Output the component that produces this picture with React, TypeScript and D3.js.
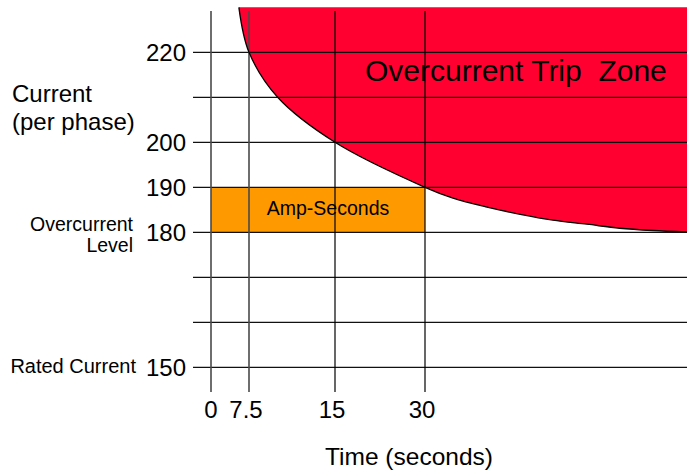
import React from "react";
import * as d3 from "d3";

const W = 687;
const H = 475;

// x ticks (seconds) and y grid (amps)
const xTicks = [0, 7.5, 15, 30];
const xTickLabels = ["0", "7.5", "15", "30"];
const yGrid = [220, 210, 200, 190, 180, 170, 160, 150];
const yLabeled = [220, 200, 190, 180, 150];

// trip curve
const curveTime = [5.5, 7.5, 10, 15, 30, 36.4, 44.2, 51.8, 59.3, 67.1, 74.6, 82.1, 90];
const curveAmps = [230, 220, 210, 200, 190, 187.6, 185.6, 184, 182.7, 181.8, 180.9, 180.4, 180.1];

// amp-seconds box
const boxTime = [0, 30];
const boxAmps = [180, 190];

const FONT = "'Liberation Sans', Arial, sans-serif";

export default function App() {
  const x = d3.scaleLinear().domain([0, 7.5, 15, 30, 90]).range([211, 249, 335, 425, 687]);
  const y = d3.scaleLinear().domain([150, 220]).range([367.3, 52.3]);
  const yTop = 230;

  const pts = curveTime.map((t, i) => ({ t, I: curveAmps[i] }));
  const area = d3
    .area<{ t: number; I: number }>()
    .x((d) => x(d.t))
    .y0(y(yTop))
    .y1((d) => y(d.I))
    .curve(d3.curveCatmullRom.alpha(0.5));
  const line = d3
    .line<{ t: number; I: number }>()
    .x((d) => x(d.t))
    .y((d) => y(d.I))
    .curve(d3.curveCatmullRom.alpha(0.5));

  return (
    <svg
      width={W}
      height={H}
      style={{ position: "absolute", left: 0, top: 0, background: "#fff" }}
      fontFamily={FONT}
    >
      <path d={area(pts) || ""} fill="#ff0030" />
      <rect
        x={x(boxTime[0])}
        y={y(boxAmps[1])}
        width={x(boxTime[1]) - x(boxTime[0])}
        height={y(boxAmps[0]) - y(boxAmps[1])}
        fill="#ff9900"
      />
      {yGrid.map((v) => (
        <line key={v} x1={193} x2={W} y1={y(v)} y2={y(v)} stroke="#111" strokeWidth={1.2} />
      ))}
      {xTicks.map((t, i) => (
        <line
          key={t}
          x1={x(t)}
          x2={x(t)}
          y1={11}
          y2={392}
          stroke={i < 2 ? "#4a4a4a" : "#000"}
          strokeWidth={i < 2 ? 1.6 : 1.2}
        />
      ))}
      <path d={line(pts) || ""} fill="none" stroke="#000" strokeWidth={1.3} />

      {yLabeled.map((v) => (
        <text key={v} x={186} y={y(v) + 9} textAnchor="end" fontSize={24} fill="#000">
          {v}
        </text>
      ))}
      {xTicks.map((t, i) => (
        <text key={t} x={x(t) - (i === 0 ? 0 : 3)} y={418} textAnchor="middle" fontSize={24} fill="#000">
          {xTickLabels[i]}
        </text>
      ))}

      <text x={12} y={102} fontSize={24}>Current</text>
      <text x={12} y={130} fontSize={24}>(per phase)</text>
      <text x={133} y={231} textAnchor="end" fontSize={19.5}>Overcurrent</text>
      <text x={133} y={252} textAnchor="end" fontSize={19.5}>Level</text>
      <text x={136} y={373} textAnchor="end" fontSize={20}>Rated Current</text>
      <text x={409} y={465} textAnchor="middle" fontSize={24.5}>Time (seconds)</text>
      <text x={328} y={215} textAnchor="middle" fontSize={19.5}>Amp-Seconds</text>
      <text x={365} y={81} fontSize={30} style={{ whiteSpace: "pre" }}>
        {"Overcurrent Trip  Zone"}
      </text>
    </svg>
  );
}
